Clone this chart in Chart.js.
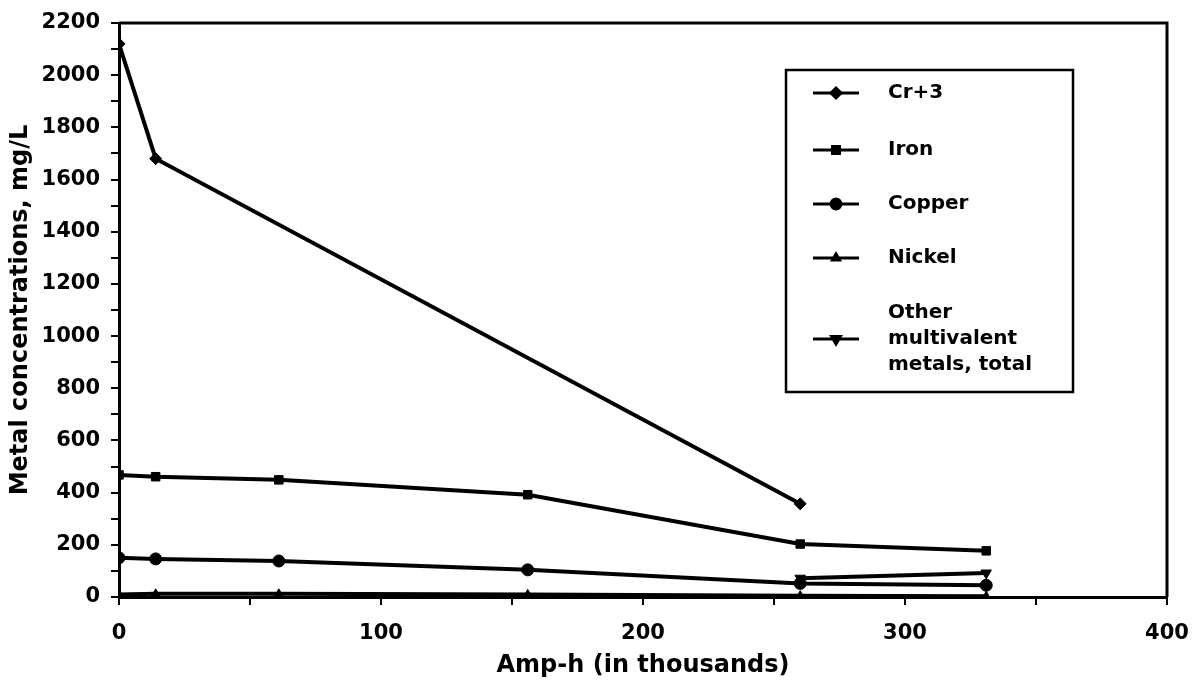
<!DOCTYPE html>
<html>
<head>
<meta charset="utf-8">
<script src="https://cdn.jsdelivr.net/npm/chart.js@4"></script>
<style>
  html, body { margin: 0; padding: 0; background: #fff; }
  #wrap { width: 1193px; height: 680px; }
</style>
</head>
<body>
<div id="wrap"><canvas id="chart"></canvas></div>
<script>
// amp-hours (thousands) and concentrations (mg/L)
const ampH = [0, 14, 61, 156, 260, 331];
const crX = [0, 14, 260];
const crY = [2120, 1680, 357];
const ironY = [468, 461, 449, 392, 203, 177];
const copperY = [150, 146, 138, 104, 52, 45];
const nickelY = [10, 12, 12, 10, 5, 3];
const otherX = [260, 331];
const otherY = [72, 92];

const seriesNames = ['Cr+3', 'Iron', 'Copper', 'Nickel', 'Other multivalent metals, total'];
const xTicks = [0, 100, 200, 300, 400];
const yTicks = [0, 200, 400, 600, 800, 1000, 1200, 1400, 1600, 1800, 2000, 2200];

const FONT = '"DejaVu Sans", "Liberation Sans", Arial, sans-serif';

function pts(xs, ys) {
    return xs.map((x, i) => ({ x: x, y: ys[i] }));
}

function ds(label, data, style, radius, rotation) {
    return {
        label: label,
        data: data,
        borderColor: '#000',
        backgroundColor: '#000',
        borderWidth: 4,
        pointStyle: style,
        pointRadius: radius,
        pointRotation: rotation || 0,
        pointBorderWidth: 1,
        tension: 0,
        fill: false
    };
}

const datasets = [
    ds(seriesNames[0], pts(crX, crY), 'rectRot', 6),
    ds(seriesNames[1], pts(ampH, ironY), 'rect', 6),
    ds(seriesNames[2], pts(ampH, copperY), 'circle', 6),
    ds(seriesNames[3], pts(ampH, nickelY), 'triangle', 5),
    ds(seriesNames[4], pts(otherX, otherY), 'triangle', 6, 180)
];

// frame around plot + boxed legend inside the plot
const framePlugin = {
    id: 'frame',
    afterDraw(chart) {
        const ctx = chart.ctx;
        const a = chart.chartArea;
        ctx.save();
        ctx.strokeStyle = '#000';
        ctx.lineWidth = 3;
        ctx.beginPath();
        ctx.moveTo(a.left, a.top);
        ctx.lineTo(a.right, a.top);
        ctx.lineTo(a.right, a.bottom);
        ctx.stroke();

        // legend box
        const bx = a.left + 667, by = a.top + 47, bw = 287, bh = 322;
        ctx.lineWidth = 2.5;
        ctx.fillStyle = '#fff';
        ctx.fillRect(bx, by, bw, bh);
        ctx.strokeRect(bx, by, bw, bh);

        const rows = [
            { lines: ['Cr+3'], y: 23 },
            { lines: ['Iron'], y: 80 },
            { lines: ['Copper'], y: 134 },
            { lines: ['Nickel'], y: 188 },
            { lines: ['Other', 'multivalent', 'metals, total'], y: 269 }
        ];
        ctx.font = 'bold 20px ' + FONT;
        ctx.textBaseline = 'middle';
        rows.forEach((r, i) => {
            const d = chart.data.datasets[i];
            const ly = by + r.y;
            ctx.lineWidth = 3;
            ctx.beginPath();
            ctx.moveTo(bx + 27, ly);
            ctx.lineTo(bx + 73, ly);
            ctx.stroke();
            ctx.fillStyle = '#000';
            Chart.helpers.drawPoint(ctx, {
                pointStyle: d.pointStyle,
                radius: d.pointRadius - 1,
                rotation: d.pointRotation,
                borderWidth: 1
            }, bx + 50, ly);
            ctx.fillStyle = '#000';
            const n = r.lines.length;
            r.lines.forEach((t, j) => {
                ctx.fillText(t, bx + 102, ly + (j - (n - 1) / 2) * 26);
            });
        });
        ctx.restore();
    }
};

new Chart(document.getElementById('chart'), {
    type: 'line',
    data: { datasets: datasets },
    plugins: [framePlugin],
    options: {
        responsive: true,
        maintainAspectRatio: false,
        animation: false,
        layout: { padding: { left: 6, right: 26, top: 23, bottom: 0 } },
        plugins: {
            legend: { display: false },
            tooltip: { enabled: false }
        },
        scales: {
            x: {
                type: 'linear',
                min: 0,
                max: 400,
                afterFit: s => { s.height = 83; s.paddingLeft = 0; s.paddingRight = 0; },
                border: { color: '#000', width: 3 },
                grid: { drawOnChartArea: false, color: '#000', lineWidth: 2, tickLength: 8 },
                ticks: {
                    stepSize: 50,
                    color: '#000',
                    font: { family: FONT, size: 21, weight: 'bold' },
                    padding: 16,
                    maxRotation: 0,
                    callback: v => xTicks.includes(v) ? String(v) : ''
                },
                title: {
                    display: true,
                    text: 'Amp-h (in thousands)',
                    color: '#000',
                    font: { family: FONT, size: 24, weight: 'bold' },
                    padding: { top: 0, bottom: 0 }
                }
            },
            y: {
                type: 'linear',
                min: 0,
                max: 2200,
                afterFit: s => { s.width = 113; s.paddingTop = 0; s.paddingBottom = 0; },
                border: { color: '#000', width: 3 },
                grid: { drawOnChartArea: false, color: '#000', lineWidth: 2, tickLength: 8 },
                ticks: {
                    stepSize: 100,
                    autoSkip: false,
                    color: '#000',
                    font: { family: FONT, size: 21, weight: 'bold' },
                    padding: 11,
                    callback: v => yTicks.includes(v) ? String(v) : ''
                },
                title: {
                    display: true,
                    text: 'Metal concentrations, mg/L',
                    color: '#000',
                    font: { family: FONT, size: 24, weight: 'bold' },
                    padding: { top: 0, bottom: 0 }
                }
            }
        }
    }
});
</script>
</body>
</html>
